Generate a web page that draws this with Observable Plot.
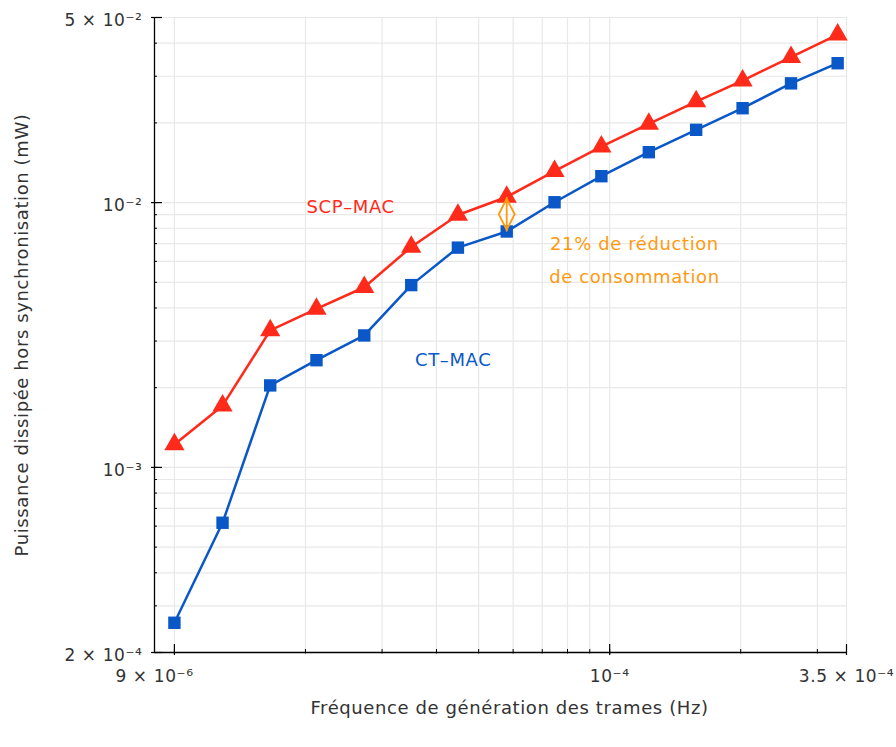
<!DOCTYPE html>
<html>
<head>
<meta charset="utf-8">
<script src="https://cdn.jsdelivr.net/npm/d3@7"></script>
<script src="https://cdn.jsdelivr.net/npm/@observablehq/plot@0.6"></script>
<style>
  html, body { margin: 0; padding: 0; background: #fff; }
  #chart svg { display: block; }
</style>
</head>
<body>
<div id="chart"></div>
<script>
// ---- data ----
const frequency = [1.0e-5, 1.29e-5, 1.66e-5, 2.12e-5, 2.73e-5, 3.5e-5, 4.48e-5, 5.8e-5, 7.47e-5, 9.57e-5, 1.23e-4, 1.58e-4, 2.02e-4, 2.61e-4, 3.34e-4];
const scpMac = [1.22e-3, 1.71e-3, 3.29e-3, 3.97e-3, 4.79e-3, 6.8e-3, 8.98e-3, 1.05e-2, 1.314e-2, 1.628e-2, 1.984e-2, 2.408e-2, 2.89e-2, 3.54e-2, 4.31e-2];
const ctMac = [2.59e-4, 6.18e-4, 2.04e-3, 2.54e-3, 3.15e-3, 4.88e-3, 6.76e-3, 7.78e-3, 1.003e-2, 1.258e-2, 1.55e-2, 1.883e-2, 2.272e-2, 2.82e-2, 3.36e-2];

const xDomain = [9e-6, 3.5e-4];
const yDomain = [2e-4, 5e-2];
const xGrid = [1e-5, 2e-5, 3e-5, 4e-5, 5e-5, 6e-5, 7e-5, 8e-5, 9e-5, 1e-4, 2e-4, 3e-4, 3.5e-4];
const xMajor = [1e-5, 1e-4, 3.5e-4];
const yGrid = [2e-4, 3e-4, 4e-4, 5e-4, 6e-4, 7e-4, 8e-4, 9e-4, 1e-3, 2e-3, 3e-3, 4e-3, 5e-3, 6e-3, 7e-3, 8e-3, 9e-3, 1e-2, 2e-2, 3e-2, 4e-2, 5e-2];
const yMajor = [2e-4, 1e-3, 1e-2, 5e-2];
const xTickValues = [9e-6, 1e-4, 3.5e-4];
const xTickLabels = ["9 × 10⁻⁶", "10⁻⁴", "3.5 × 10⁻⁴"];
const yTickValues = [2e-4, 1e-3, 1e-2, 5e-2];
const yTickLabels = ["2 × 10⁻⁴", "10⁻³", "10⁻²", "5 × 10⁻²"];

const seriesNames = ["SCP–MAC", "CT–MAC"];
const seriesLabelX = [2.54e-5, 4.37e-5];
const seriesLabelY = [9.58e-3, 2.53e-3];
const noteLines = ["21% de réduction", "de consommation"];
const noteX = [1.14e-4, 1.14e-4];
const noteY = [6.94e-3, 5.21e-3];
const highlightIndex = 7;

const xTitle = "Fréquence de génération des trames (Hz)";
const yTitle = "Puissance dissipée hors synchronisation (mW)";

// ---- styles ----
const RED = "#ff2a1a";
const BLUE = "#0a58c8";
const ORANGE = "#ff9a10";
const GRID = "#e8e8e8";
const FONT = "DejaVu Sans";

const scpData = frequency.map((f, i) => ({f, v: scpMac[i]}));
const ctData = frequency.map((f, i) => ({f, v: ctMac[i]}));
const arrowData = [{f: frequency[highlightIndex], top: scpMac[highlightIndex], bottom: ctMac[highlightIndex],
  mid: Math.sqrt(scpMac[highlightIndex] * ctMac[highlightIndex])}];

const diamondSymbol = {
  draw(context) {
    context.moveTo(0, -15.5);
    context.lineTo(8, 0);
    context.lineTo(0, 15.5);
    context.lineTo(-8, 0);
    context.closePath();
  }
};

const chart = Plot.plot({
  width: 896,
  height: 747,
  marginLeft: 154,
  marginRight: 50,
  marginTop: 17,
  marginBottom: 95,
  style: {fontFamily: FONT, background: "#fff", overflow: "visible", letterSpacing: "0.6px"},
  x: {type: "log", domain: xDomain, axis: null},
  y: {type: "log", domain: yDomain, axis: null},
  marks: [
    Plot.ruleX(xGrid, {x: d => d, stroke: GRID, strokeWidth: 1.2}),
    Plot.ruleY(yGrid, {y: d => d, stroke: GRID, strokeWidth: 1.2}),
    // axes
    Plot.ruleX([xDomain[0]], {x: d => d, stroke: "#000", strokeWidth: 1.3}),
    Plot.ruleY([yDomain[0]], {y: d => d, stroke: "#000", strokeWidth: 1.3}),
    Plot.tickY(yGrid, {y: d => d, stroke: "#000", strokeWidth: 1, insetRight: 689}),
    Plot.tickY(yMajor, {y: d => d, stroke: "#000", strokeWidth: 1.2, insetLeft: -3, insetRight: 684}),
    Plot.tickX(xGrid, {x: d => d, stroke: "#000", strokeWidth: 1, insetTop: 632, insetBottom: -1.5}),
    Plot.tickX(xMajor, {x: d => d, stroke: "#000", strokeWidth: 1.2, insetTop: 627, insetBottom: -3}),
    // tick labels
    Plot.text(xTickValues, {x: d => d, text: (d, i) => xTickLabels[i], frameAnchor: "bottom", dy: 29,
      fontSize: 17, fill: "#333", textAnchor: "middle"}),
    Plot.text(yTickValues, {y: d => d, text: (d, i) => yTickLabels[i], frameAnchor: "left", dx: -12, dy: 3,
      fontSize: 17, fill: "#333", textAnchor: "end"}),
    // titles
    Plot.text([xTitle], {frameAnchor: "bottom", dx: 9, dy: 61, fontSize: 18, fill: "#333", textAnchor: "middle"}),
    Plot.text([yTitle], {frameAnchor: "left", rotate: -90, dx: -132, fontSize: 18, fill: "#333", textAnchor: "middle"}),
    // series
    Plot.line(scpData, {x: "f", y: "v", stroke: RED, strokeWidth: 2.5}),
    Plot.line(ctData, {x: "f", y: "v", stroke: BLUE, strokeWidth: 2.5}),
    Plot.dot(scpData, {x: "f", y: "v", symbol: "triangle", r: 7.5, fill: RED, stroke: null}),
    Plot.dot(ctData, {x: "f", y: "v", symbol: "square", r: 7, fill: BLUE, stroke: null}),
    // reduction marker
    Plot.link(arrowData, {x1: "f", x2: "f", y1: "bottom", y2: "top", stroke: ORANGE, strokeWidth: 1.8}),
    Plot.dot(arrowData, {x: "f", y: "mid", symbol: diamondSymbol, fill: "none", stroke: ORANGE, strokeWidth: 1.8}),
    // annotations
    Plot.text(seriesNames, {x: (d, i) => seriesLabelX[i], y: (d, i) => seriesLabelY[i], text: d => d,
      fill: (d, i) => i === 0 ? RED : BLUE, fontSize: 18}),
    Plot.text(noteLines, {x: (d, i) => noteX[i], y: (d, i) => noteY[i], text: d => d,
      fill: ORANGE, fontSize: 18})
  ]
});

document.getElementById("chart").appendChild(chart);
</script>
</body>
</html>
